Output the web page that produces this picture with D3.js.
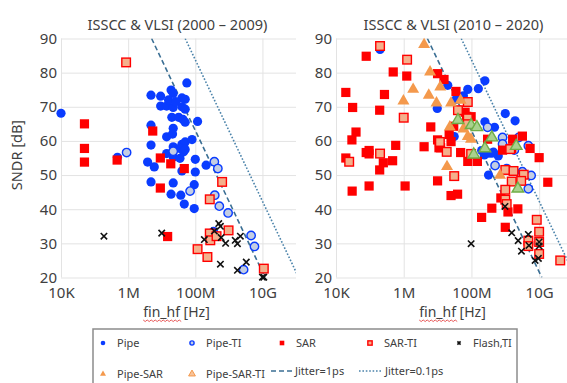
<!DOCTYPE html>
<html>
<head>
<meta charset="utf-8">
<script src="https://cdn.jsdelivr.net/npm/d3@7"></script>
<style>
  body { margin: 0; background: #fff; }
  svg text { font-family: "Noto Sans", "DejaVu Sans", sans-serif; fill: #404040; }
</style>
</head>
<body>
<svg id="chart" width="567" height="383" font-family="Noto Sans, DejaVu Sans, sans-serif"></svg>
<script>
// values: [fin_hf in Hz, SNDR in dB]
const leftPipe = [
  [1e4, 68.1], [4.8e5, 55.2], [4.8e6, 73.4], [9.3e6, 73.1], [9.3e6, 70.2], [1.9e7, 74.9],
  [2.2e7, 73.9], [4e7, 72.6], [5e7, 72.2], [5.6e7, 77.0], [1.4e7, 70.2], [2.2e7, 69.8],
  [4e7, 70.0], [5e7, 69.3], [1.6e7, 72.0], [2.6e7, 71.5], [2e7, 66.9], [3.2e7, 66.9],
  [4.3e7, 66.3], [5e7, 65.5], [1.17e8, 65.7], [2.2e7, 63.7], [4.8e6, 64.6], [1.4e7, 61.2],
  [2.1e7, 62.0], [4.8e6, 58.8], [2.2e7, 58.3], [4e7, 59.0], [5e7, 59.7], [8e7, 60.4],
  [3.5e7, 57.8], [3.8e6, 53.8], [6e6, 52.4], [1.4e7, 56.3], [2.2e7, 55.3], [3.5e7, 54.9],
  [4e7, 51.2], [4.5e7, 56.8], [5e7, 57.5], [1e8, 54.6], [1e8, 50.9], [2.1e8, 52.9],
  [4.8e6, 48.0], [2.2e7, 47.7], [1.9e7, 44.4], [3.7e7, 44.1], [9.3e7, 47.2], [4.7e7, 41.5],
  [9.3e7, 40.2], [3.5e8, 33.5]
];
const leftPipeTI = [
  [9e5, 56.6], [2.2e7, 57.0], [7e7, 45.3], [3.7e8, 53.9], [4.7e8, 51.9], [3.8e8, 44.1],
  [5.2e8, 40.9], [9.5e8, 38.9], [4.6e9, 32.3], [5.8e9, 29.1], [2.75e9, 22.3]
];
const leftSAR = [
  [5e4, 65.0], [5e4, 57.8], [5e4, 53.8], [4.7e5, 54.4], [5.4e6, 62.9], [9.1e6, 55.0],
  [1.86e7, 53.3], [9.1e6, 46.2], [1.5e7, 32.0], [4.7e7, 51.9]
];
const leftSARTI = [
  [8.7e5, 83.0], [6.3e8, 48.0], [2.7e8, 42.9], [1.17e8, 28.3], [2.3e8, 26.0], [2.7e8, 32.9],
  [2.8e8, 30.9], [4.3e8, 32.1], [9.8e8, 33.8], [1.1e10, 22.6]
];
const leftFlash = [
  [1.9e5, 32.1], [1e7, 33.0], [1.86e8, 31.1], [3.7e8, 33.6], [5e8, 35.8], [5.6e8, 35.0],
  [5.9e8, 31.7], [8e8, 30.0], [1.55e9, 30.9], [1.8e9, 29.9], [2.2e9, 32.1], [5.6e8, 23.9],
  [1.8e9, 22.1], [3.3e9, 24.5], [1e10, 20.1], [1.1e10, 20.1]
];
const leftPipeSAR = [];
const leftPipeSARTI = [];

const rightPipe = [
  [2e5, 86.8], [2e7, 76.3], [9.8e6, 69.5], [7.8e7, 75.1], [1.6e8, 75.3], [2.5e8, 77.6],
  [5.8e7, 73.2], [3.5e7, 72.1], [2.5e8, 65.6], [4.8e8, 64.0], [1e9, 68.0], [1.95e9, 65.9],
  [3.1e7, 61.3], [2e8, 57.2], [3.2e8, 56.4], [4.5e8, 56.7], [6.2e8, 55.6], [2.4e8, 55.9],
  [4e8, 56.4], [3.2e8, 50.0], [1.1e9, 52.0]
];
const rightPipeTI = [
  [3e8, 64.0], [8.3e8, 61.0], [8.3e8, 59.1], [2.5e9, 61.0], [4.8e9, 58.6], [1.85e9, 57.3],
  [5e8, 52.8], [3.2e9, 51.0], [5.8e9, 49.9], [4.8e9, 46.0]
];
const rightSAR = [
  [7.8e4, 84.8], [4.9e5, 80.2], [1.23e6, 79.0], [1.95e4, 74.2], [2.7e5, 73.6], [3.1e4, 69.8],
  [1.95e5, 69.0], [3.9e4, 62.6], [2.95e4, 60.3], [5.8e5, 58.7], [4e6, 58.3], [6.3e6, 64.1],
  [1.95e4, 55.0], [7.8e4, 56.6], [9.5e4, 57.2], [9.5e4, 56.2], [2.5e5, 53.6], [4.7e5, 54.2],
  [1.95e5, 51.5], [9.5e4, 46.8], [3e4, 45.3], [1.1e6, 46.8], [1e7, 48.3], [1e7, 60.3],
  [1.23e7, 58.0], [1e7, 79.7], [1.55e7, 78.0], [3.5e7, 74.5], [6.5e7, 68.4], [7.2e7, 67.2],
  [9.8e7, 67.1], [2.2e7, 61.9], [3e7, 64.3], [3e8, 60.5], [3.2e9, 61.4], [1.55e9, 57.8],
  [1e10, 55.1], [1.1e7, 58.0], [2.5e7, 59.8], [4.8e7, 56.6], [8.3e8, 57.3], [1.65e9, 60.5],
  [5.4e9, 57.8], [2.5e7, 44.0], [3.9e7, 44.4], [7.8e7, 54.0], [1.5e8, 54.0], [1.8e10, 47.9],
  [7.4e8, 43.3], [2.35e9, 40.1], [4e8, 40.3], [1.2e9, 39.2], [2e8, 37.6], [1e9, 34.7]
];
const rightSARTI = [
  [2e5, 87.8], [1.26e6, 83.8], [1e6, 66.8], [2.45e4, 53.9], [2e5, 56.3], [1.17e7, 59.7],
  [1.86e7, 56.8], [7.8e7, 71.4], [4e7, 69.0], [7.8e7, 66.6], [7.8e7, 64.9], [9.8e7, 56.2],
  [1.4e9, 57.6], [3.1e7, 49.7], [1e9, 51.5], [1.75e9, 51.2], [3.5e9, 50.1], [1.55e9, 48.1],
  [2.95e9, 48.3], [1e9, 45.7], [1e9, 42.8], [1.1e9, 41.5], [8.5e9, 36.9], [1e10, 33.4],
  [4.8e9, 30.8], [1e10, 30.4], [1e10, 26.9], [4.2e10, 25.0], [4.8e9, 29.2]
];
const rightFlash = [
  [9.8e8, 40.8], [1.55e9, 33.1], [2.4e9, 30.8], [4.8e9, 32.6], [9.8e7, 29.9], [5e9, 29.4],
  [1e10, 30.4], [3e9, 27.7], [7.6e9, 25.0], [9.5e9, 25.6], [1e10, 29.2]
];
const rightPipeSAR = [
  [4e6, 88.2], [6e6, 80.2], [1.2e7, 75.8], [1.9e6, 75.1], [5.5e6, 73.4], [9.8e5, 71.7],
  [9.3e6, 71.1], [2.5e7, 71.1], [4.8e7, 71.9], [2.3e7, 64.1], [5.8e7, 63.5], [7.8e7, 61.3],
  [9.7e7, 60.5], [1.9e7, 52.5], [7e8, 49.9]
];
const rightPipeSARTI = [
  [4e7, 66.1], [9.8e7, 64.6], [1.45e8, 64.0], [4e8, 61.0], [2.1e9, 58.5], [2.5e8, 57.8],
  [1.17e8, 56.0], [2.35e9, 46.0]
];

// jitter limit lines, end points
const jitter1ps = [[5e6, 90], [1.2e10, 20]];
const jitter01ps = [[5e7, 90], [1.2e11, 20]];

const xTicks = [1e4, 1e6, 1e8, 1e10];
const xTickLabels = ["10K", "1M", "100M", "10G"];
const yTicks = [20, 30, 40, 50, 60, 70, 80, 90];
const titles = ["ISSCC & VLSI (2000 \u2013 2009)", "ISSCC & VLSI (2010 \u2013 2020)"];
const seriesNames = ["Pipe", "Pipe-TI", "SAR", "SAR-TI", "Flash,TI", "Pipe-SAR", "Pipe-SAR-TI"];

const BLUE = "#0a3cff", RED = "#ff0000", ORANGE = "#f4994c", GREEN = "#70ad47";
const LINE = "#3b6f94";
const FONT = '"Noto Sans", "DejaVu Sans", sans-serif';

const svg = d3.select("#chart");
const plotTop = 38.5, plotBottom = 277.5;

const panels = [
  {x0: 61, x1: 296, title: titles[0],
   series: [leftPipe, leftPipeTI, leftSAR, leftSARTI, leftFlash, leftPipeSAR, leftPipeSARTI]},
  {x0: 336, x1: 573, title: titles[1],
   series: [rightPipe, rightPipeTI, rightSAR, rightSARTI, rightFlash, rightPipeSAR, rightPipeSARTI]}
];

// draw one marker of a given kind into a selection of <g>
function drawMarker(g, kind, s) {
  s = s || 1;
  if (kind === 0) {
    g.append("circle").attr("r", 4.6 * s).attr("fill", BLUE);
  } else if (kind === 1) {
    g.append("circle").attr("r", 4.2 * s).attr("fill", "#c3cde3")
      .attr("stroke", BLUE).attr("stroke-width", 1.4);
  } else if (kind === 2) {
    g.append("rect").attr("x", -4.6 * s).attr("y", -4.6 * s)
      .attr("width", 9.2 * s).attr("height", 9.2 * s).attr("fill", RED);
  } else if (kind === 3) {
    g.append("rect").attr("x", -4.3 * s).attr("y", -4.3 * s)
      .attr("width", 8.6 * s).attr("height", 8.6 * s).attr("fill", "#f4b08c")
      .attr("stroke", RED).attr("stroke-width", 1.4);
  } else if (kind === 4) {
    const d = 3.2 * s;
    g.append("path").attr("d", `M${-d},${-d}L${d},${d}M${d},${-d}L${-d},${d}`)
      .attr("stroke", "#111").attr("stroke-width", 1.6).attr("fill", "none");
  } else if (kind === 5) {
    g.append("path").attr("d", d3.symbol(d3.symbolTriangle, 62 * s * s)())
      .attr("fill", ORANGE);
  } else {
    g.append("path").attr("d", d3.symbol(d3.symbolTriangle, 58 * s * s)())
      .attr("fill", "#a9d18e").attr("stroke", GREEN).attr("stroke-width", 1.4);
  }
}

panels.forEach((p, pi) => {
  const x = d3.scaleLog().domain([1e4, 1e11]).range([p.x0, p.x1]);
  const y = d3.scaleLinear().domain([20, 90]).range([plotBottom, plotTop]);
  const w = p.x1 - p.x0;

  // grid
  svg.append("g")
    .attr("transform", `translate(0,${plotBottom})`)
    .call(d3.axisBottom(x).tickValues(xTicks).tickSize(-(plotBottom - plotTop)).tickFormat(""))
    .call(g => g.select(".domain").remove())
    .call(g => g.selectAll("line").attr("stroke", "#e3e3e3"));
  svg.append("g")
    .attr("transform", `translate(${p.x0},0)`)
    .call(d3.axisLeft(y).tickValues(yTicks).tickSize(-w).tickFormat(""))
    .call(g => g.select(".domain").remove())
    .call(g => g.selectAll("line").attr("stroke", "#e3e3e3"));

  // tick labels
  svg.append("g")
    .attr("transform", `translate(0,${plotBottom})`)
    .call(d3.axisBottom(x).tickValues(xTicks).tickSize(0).tickPadding(10)
      .tickFormat((d, i) => xTickLabels[i]))
    .call(g => g.select(".domain").remove())
    .call(g => g.selectAll("text").attr("font-size", 15).style("font-family", FONT));
  svg.append("g")
    .attr("transform", `translate(${p.x0},0)`)
    .call(d3.axisLeft(y).tickValues(yTicks).tickSize(0).tickPadding(4))
    .call(g => g.select(".domain").remove())
    .call(g => g.selectAll("text").attr("font-size", 15).style("font-family", FONT));

  // title
  svg.append("text")
    .attr("x", (p.x0 + Math.min(p.x1, 573)) / 2 - 1)
    .attr("y", 30)
    .attr("text-anchor", "middle")
    .attr("font-size", 14.5)
    .style("font-family", FONT)
    .text(p.title);

  // x label with the spell-check squiggle under "fin_hf"
  const xl = svg.append("text")
    .attr("x", (p.x0 + p.x1) / 2 - 2)
    .attr("y", 317)
    .attr("text-anchor", "middle")
    .attr("font-size", 14)
    .style("font-family", FONT)
    .text("fin_hf [Hz]");
  const bb = xl.node().getBBox();
  const wl = xl.node().getSubStringLength(0, 6);
  let zz = `M${bb.x},320`;
  for (let k = 0, xx = bb.x; xx < bb.x + wl; k++) {
    xx += 2;
    zz += `L${xx},${k % 2 ? 320 : 321.5}`;
  }
  svg.append("path").attr("d", zz).attr("fill", "none")
    .attr("stroke", "#e03030").attr("stroke-width", 0.8);

  // clip for lines
  const clipId = "clip" + pi;
  svg.append("clipPath").attr("id", clipId)
    .append("rect").attr("x", p.x0).attr("y", plotTop).attr("width", w).attr("height", plotBottom - plotTop);

  const line = d3.line().x(d => x(d[0])).y(d => y(d[1]));
  svg.append("path").datum(jitter1ps)
    .attr("clip-path", `url(#${clipId})`)
    .attr("d", line).attr("fill", "none")
    .attr("stroke", LINE).attr("stroke-width", 1.6).attr("stroke-dasharray", "5,3");
  svg.append("path").datum(jitter01ps)
    .attr("clip-path", `url(#${clipId})`)
    .attr("d", line).attr("fill", "none")
    .attr("stroke", "#4b83aa").attr("stroke-width", 1.6).attr("stroke-dasharray", "1.6,1.8");

  // markers
  p.series.forEach((data, k) => {
    svg.append("g").selectAll("g")
      .data(data)
      .join("g")
      .attr("transform", d => `translate(${x(d[0])},${y(d[1])})`)
      .each(function () { drawMarker(d3.select(this), k); });
  });
});

// y label
svg.append("text")
  .attr("transform", "translate(22,155) rotate(-90)")
  .attr("text-anchor", "middle")
  .attr("font-size", 14.5)
  .style("font-family", FONT)
  .text("SNDR [dB]");

// legend
const lg = svg.append("g");
lg.append("rect")
  .attr("x", 93).attr("y", 329).attr("width", 424).attr("height", 70)
  .attr("fill", "#fff").attr("stroke", "#8c8c8c").attr("stroke-width", 1.5);

const legendPos = [
  [103, 343], [192, 343], [282, 343], [370, 343], [459, 343],
  [103, 374], [192, 374]
];
seriesNames.forEach((name, k) => {
  const [lx, ly] = legendPos[k];
  const g = lg.append("g").attr("transform", `translate(${lx},${ly})`);
  // legend shows Pipe-SAR-TI with an orange triangle
  if (k === 6) {
    g.append("path").attr("d", d3.symbol(d3.symbolTriangle, 20)())
      .attr("fill", "#f8c39a").attr("stroke", ORANGE).attr("stroke-width", 1);
  } else {
    drawMarker(g, k, 0.5);
  }
  lg.append("text").attr("x", lx + 14).attr("y", ly + 4)
    .attr("font-size", 11).style("font-family", FONT).text(name);
});

lg.append("line").attr("x1", 271).attr("x2", 292).attr("y1", 371).attr("y2", 371)
  .attr("stroke", LINE).attr("stroke-width", 1.6).attr("stroke-dasharray", "5,3");
lg.append("text").attr("x", 295).attr("y", 375).attr("font-size", 11)
  .style("font-family", FONT).text("Jitter=1ps");
lg.append("line").attr("x1", 359).attr("x2", 382).attr("y1", 371).attr("y2", 371)
  .attr("stroke", "#4b83aa").attr("stroke-width", 1.6).attr("stroke-dasharray", "1.6,1.8");
lg.append("text").attr("x", 385).attr("y", 375).attr("font-size", 11)
  .style("font-family", FONT).text("Jitter=0.1ps");
</script>
</body>
</html>
